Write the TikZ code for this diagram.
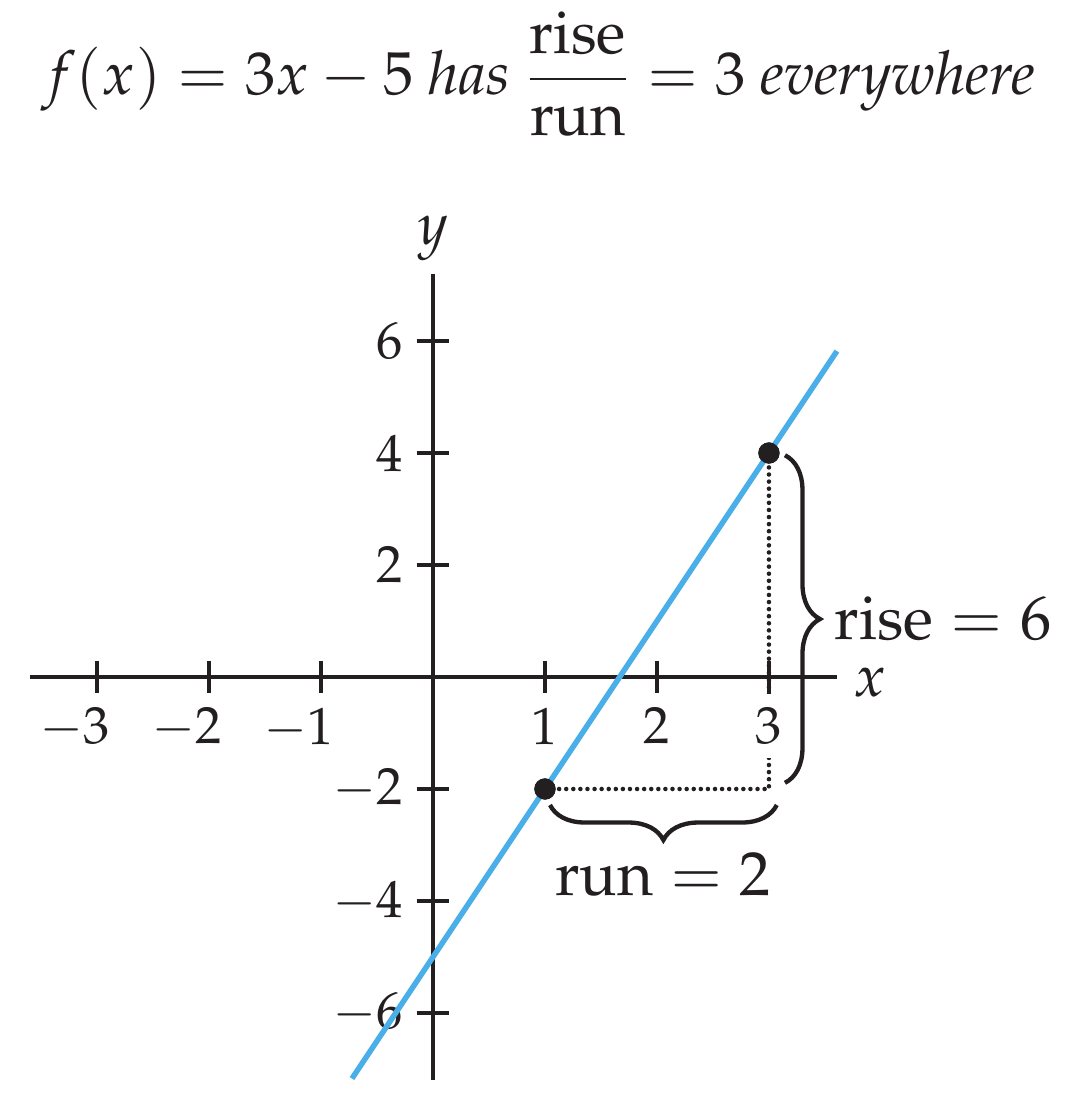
\documentclass[tikz,border=0pt]{standalone}
\usepackage[T1]{fontenc}
\usepackage{mathpazo}
\usepackage{amsmath}
\usetikzlibrary{decorations.pathreplacing}
\definecolor{ink}{RGB}{35,31,32}
\definecolor{lineblue}{RGB}{74,174,232}
\tikzset{
  axisline/.style={draw=ink, line width=1pt},
  tickline/.style={draw=ink, line width=1pt},
  ticklab/.style={font=\fontsize{13.3}{15}\selectfont, text=ink},
  xlab/.style={ticklab, anchor=north, fill=white, inner sep=3.5pt},
  ylab/.style={ticklab, anchor=east, inner sep=3.3pt},
  guide/.style={draw=ink, line width=1.15pt, line cap=round, dash pattern=on 0pt off 1.8pt},
  bracebar/.style={draw=ink, line width=1.1pt, decorate, decoration={brace, amplitude=8.9pt}},
  pointdot/.style={circle, fill=ink, inner sep=0pt, minimum size=0.19cm},
  graphline/.style={draw=lineblue, line width=1.4pt},
  biglab/.style={font=\fontsize{15.8}{18}\selectfont, text=ink},
  titlelab/.style={font=\fontsize{15.4}{18}\selectfont, text=ink},
  axislab/.style={font=\fontsize{15}{18}\selectfont, text=ink},
}
\begin{document}
\begin{tikzpicture}[x=1cm, y=0.5cm]
\useasboundingbox (-3.866cm,-3.902cm) rectangle (5.777cm,6.045cm);
% coordinates
\coordinate (xl) at (-3.6,0);
\coordinate (xr) at (3.607,0);
\coordinate (yb) at (0,-7.2);
\coordinate (yt) at (0,7.2);
\coordinate (corner) at (3,-2);
\coordinate (lb) at (-0.723,-7.17);
\coordinate (lt) at (3.607,5.82);
% points
\node[pointdot] (p1) at (1,-2) {};
\node[pointdot] (p2) at (3,4) {};
% dotted guides
\draw[guide] (p1.center) -- (corner) -- (p2.center);
% x tick labels
\foreach \v/\t in {-3/{\llap{$-$}$3$}, -2/{\llap{$-$}$2$}, -1/{\llap{$-$}$1$}, 1/{$1$}, 2/{$2$}, 3/{$3$}} {
  \node[xlab] (xt\v) at ([yshift=-0.145cm]\v,0) {\t};
}
% y tick labels
\foreach \v/\t in {-6/{$-6$}, -4/{$-4$}, -2/{$-2$}, 2/{$2$}, 4/{$4$}, 6/{$6$}} {
  \node[ylab] (yt\v) at ([xshift=-0.145cm]0,\v) {\t};
}
% axes
\draw[axisline] (xl) -- (xr);
\draw[axisline] (yb) -- (yt);
\foreach \v in {-3,-2,-1,1,2,3} {
  \draw[tickline] ([yshift=-0.145cm]\v,0) -- ([yshift=0.145cm]\v,0);
}
\foreach \v in {-6,-4,-2,2,4,6} {
  \draw[tickline] ([xshift=-0.145cm]0,\v) -- ([xshift=0.145cm]0,\v);
}
\node[axislab, anchor=west, inner sep=4pt, yshift=-1.5pt] (xname) at (xr) {$x$};
\node[axislab, anchor=south, inner sep=3pt] (yname) at (yt) {$y$};
% graph
\draw[graphline] (lb) -- (lt);
\node[pointdot] at (p1) {};
\node[pointdot] at (p2) {};
% braces
\coordinate (rb1) at (3.143,3.96);
\coordinate (rb2) at (3.143,-1.89);
\draw[bracebar] (rb1) -- (rb2);
\node[biglab, anchor=west, inner sep=3.5pt] (rise) at (3.457,1.035) {$\text{rise} = 6$};
\coordinate (rh1) at (3.07,-2.286);
\coordinate (rh2) at (1.045,-2.286);
\draw[bracebar] (rh1) -- (rh2);
\node[biglab, anchor=north, inner sep=3pt] (run) at (2.0575,-2.914) {$\text{run} = 2$};
% title
\node[titlelab, anchor=base] (title) at (0.942cm,5.205cm) {$f(x) = 3x - 5$ \textit{has} $\dfrac{\text{rise}}{\text{run}} = 3$ \textit{everywhere}};
\end{tikzpicture}
\end{document}
